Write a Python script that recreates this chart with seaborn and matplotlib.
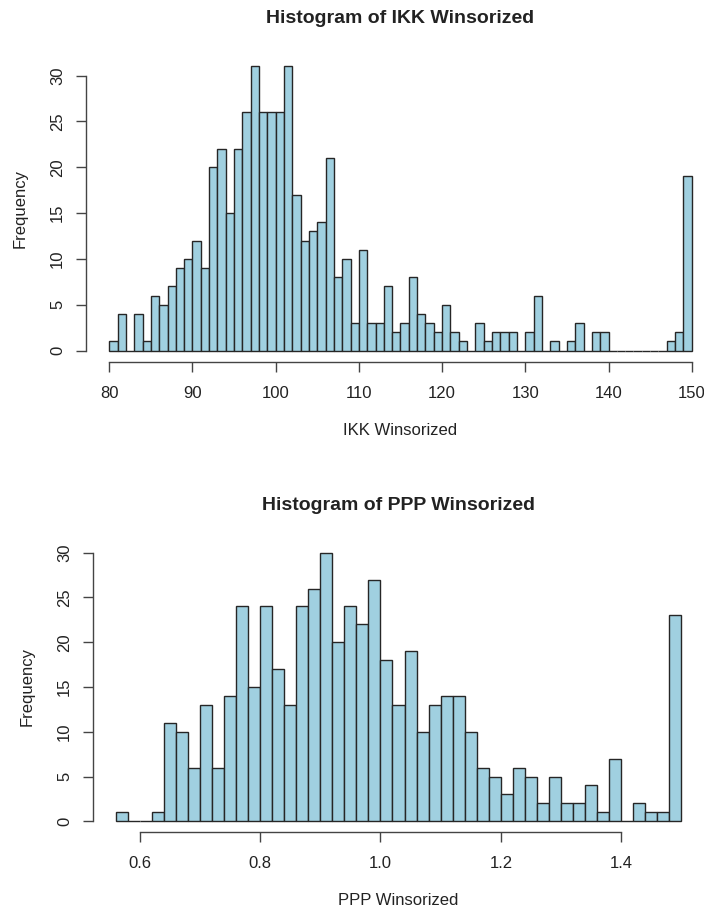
import numpy as np
import pandas as pd
import matplotlib
matplotlib.use("Agg")
import matplotlib.pyplot as plt
import seaborn as sns

# IKK Winsorized: counts per bin of width 1, from 80 to 150
ikk_counts = [1, 4, 0, 4, 1, 6, 5, 7, 9, 10,
              12, 9, 20, 22, 15, 22, 26, 31, 26, 26,
              26, 31, 17, 12, 13, 14, 21, 8, 10, 3,
              11, 3, 3, 7, 2, 3, 8, 4, 3, 2,
              5, 2, 1, 0, 3, 1, 2, 2, 2, 0,
              2, 6, 0, 1, 0, 1, 3, 0, 2, 2,
              0, 0, 0, 0, 0, 0, 0, 1, 2, 19]
ikk_ticks = [80, 90, 100, 110, 120, 130, 140, 150]

# PPP Winsorized: counts per bin of width 0.02, from 0.56 to 1.50
ppp_counts = [1, 0, 0, 1, 11, 10, 6, 13, 6, 14,
              24, 15, 24, 17, 13, 24, 26, 30, 20, 24,
              22, 27, 18, 13, 19, 10, 13, 14, 14, 10,
              6, 5, 3, 6, 5, 2, 5, 2, 2, 4,
              1, 7, 0, 2, 1, 1, 23]
ppp_ticks = [0.6, 0.8, 1.0, 1.2, 1.4]

y_ticks = [0, 5, 10, 15, 20, 25, 30]

sns.set_style("white")
plt.rcParams['font.family'] = ['Liberation Sans', 'DejaVu Sans']

fig = plt.figure(figsize=(7.04, 9.10), dpi=100)
W, H = 704, 910


def panel(px_left, px_right, px_top, px_bottom, lo, width, counts, ticks, ticklabels,
          xlabel, title):
    ax = fig.add_axes([px_left / W, 1 - px_bottom / H,
                       (px_right - px_left) / W, (px_bottom - px_top) / H])
    n = len(counts)
    hi = lo + width * n
    mids = lo + width * (np.arange(n) + 0.5)
    df = pd.DataFrame({'mid': mids, 'count': counts})
    sns.histplot(data=df, x='mid', weights='count', binwidth=width,
                 binrange=(lo, hi), ax=ax,
                 color="#A0D0E0", edgecolor="#262626", linewidth=1.0, alpha=1.0)
    pad_x = (hi - lo) * 0.04
    pad_y = max(counts) * 0.04
    ax.set_xlim(lo - pad_x, hi + pad_x)
    ax.set_ylim(-pad_y, max(counts) + pad_y)
    ax.set_xticks(ticks)
    ax.set_xticklabels(ticklabels)
    ax.set_yticks(y_ticks)
    ax.set_yticklabels([str(t) for t in y_ticks], rotation=90, va='center')
    for s in ['top', 'right']:
        ax.spines[s].set_visible(False)
    ax.spines['bottom'].set_bounds(ticks[0], ticks[-1])
    ax.spines['left'].set_bounds(0, 30)
    for s in ['bottom', 'left']:
        ax.spines[s].set_color('#444444')
        ax.spines[s].set_linewidth(1.0)
    ax.tick_params(axis='both', direction='out', length=7, width=1.0,
                   color='#444444', labelsize=12, labelcolor='#222222',
                   bottom=True, left=True)
    ax.tick_params(axis='x', pad=10)
    ax.tick_params(axis='y', pad=8)
    ax.set_xlabel(xlabel, fontsize=12, color='#222222', labelpad=16)
    ax.set_ylabel('Frequency', fontsize=12, color='#222222', labelpad=16)
    ax.set_title(title, fontsize=14, fontweight='bold', color='#222222', pad=23)
    return ax


panel(86, 715, 55, 362, 80, 1, ikk_counts, ikk_ticks,
      [str(t) for t in ikk_ticks], 'IKK Winsorized', 'Histogram of IKK Winsorized')
panel(93, 704, 542, 832, 0.56, 0.02, ppp_counts, ppp_ticks,
      ['%.1f' % t for t in ppp_ticks], 'PPP Winsorized', 'Histogram of PPP Winsorized')

fig.savefig('out.png', dpi=100)
